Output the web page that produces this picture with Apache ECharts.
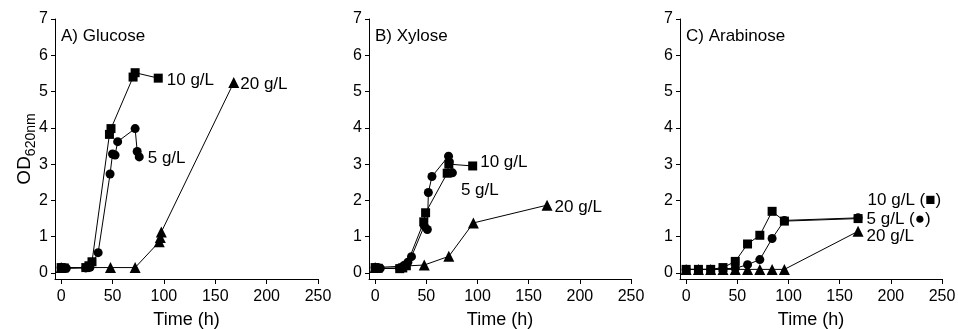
<!DOCTYPE html>
<html>
<head>
    <meta charset="UTF-8">
    <title></title>
    <style>
        html, body { margin: 0; padding: 0; background: #fff; }
        #container { width: 958px; height: 329px; }
    </style>
</head>
<body>
    <div id="container"></div>
    <script src="https://cdn.jsdelivr.net/npm/echarts@6/dist/echarts.min.js"></script>
    <script>
        // panel titles and tick values
        var panelTitles = ['A) Glucose', 'B) Xylose', 'C) Arabinose'];
        var xTicks = [0, 50, 100, 150, 200, 250];
        var yTicks = [0, 1, 2, 3, 4, 5, 6, 7];

        // A) Glucose  [time (h), OD620]
        var glu10 = [[0,0.15],[3,0.14],[24,0.15],[27,0.2],[30,0.31],[47,3.82],[48.5,3.98],[70,5.4],[72,5.52],[94.5,5.37]];
        var glu5 = [[0,0.15],[2,0.14],[5,0.13],[24,0.14],[28,0.16],[36,0.56],[47.6,2.73],[50,3.28],[52.5,3.25],[55,3.62],[72,3.98],[74,3.35],[76,3.2]];
        var glu20 = [[0,0.15],[48,0.15],[72,0.15],[95.5,0.86],[96.5,0.98],[97.5,1.13],[168,5.25]];

        // B) Xylose
        var xyl10 = [[0,0.15],[3,0.13],[24,0.12],[27,0.14],[30.5,0.2],[47.5,1.41],[49.3,1.66],[70.4,2.75],[72,3.0],[95.3,2.95]];
        var xyl5 = [[0,0.15],[2,0.14],[5,0.13],[24,0.14],[28,0.2],[32,0.3],[35.5,0.45],[48,1.3],[51,1.2],[52,2.22],[55.5,2.66],[71.7,3.22],[72.5,3.06],[75.5,2.76]];
        var xyl20 = [[0,0.15],[48,0.22],[72,0.46],[96,1.38],[168,1.87]];

        // C) Arabinose
        var ara10 = [[0,0.1],[12,0.1],[24,0.1],[36,0.15],[48,0.32],[60,0.8],[72,1.04],[84,1.7],[96,1.43],[168,1.5]];
        var ara5 = [[0,0.1],[12,0.1],[24,0.1],[36,0.12],[48,0.13],[60,0.23],[72,0.37],[84,0.95],[96,1.45],[168,1.52]];
        var ara20 = [[0,0.1],[12,0.1],[24,0.1],[36,0.1],[48,0.1],[60,0.1],[72,0.1],[84,0.1],[96,0.1],[168,1.15]];

        var font = "'Liberation Sans', Arial, sans-serif";
        var gridLeft = [55, 369, 680];

        // one line series, label put on its last point
        function mk(idx, symbol, size, pts, text, dist, dy) {
            var data = pts.map(function (p, i) {
                if (i < pts.length - 1) return p;
                return {
                    value: p,
                    label: {
                        show: true, position: 'right', distance: dist, offset: [0, dy],
                        formatter: text, color: '#000', fontSize: 17, fontFamily: font
                    }
                };
            });
            return {
                type: 'line', xAxisIndex: idx, yAxisIndex: idx,
                symbol: symbol, symbolSize: size, showAllSymbol: true,
                lineStyle: { color: '#000', width: 1 },
                itemStyle: { color: '#000' },
                emphasis: { disabled: true },
                data: data
            };
        }

        var grids = [], xAxes = [], yAxes = [], titles = [];
        for (var i = 0; i < 3; i++) {
            grids.push({
                left: gridLeft[i], top: 19, width: i == 0 ? 263 : 262, height: 260,
                outerBoundsMode: 'none', containLabel: false
            });
            titles.push({
                text: panelTitles[i], left: gridLeft[i] + 6, top: 28, padding: 0,
                textStyle: { fontSize: 17, fontWeight: 'normal', color: '#000', fontFamily: font }
            });
            xAxes.push({
                gridIndex: i, type: 'value', min: -6, max: 250,
                name: 'Time (h)', nameLocation: 'middle', nameGap: 32,
                nameTextStyle: { fontSize: 18, color: '#000', fontFamily: font },
                axisLine: { onZero: false, lineStyle: { color: '#000', width: 1 } },
                axisTick: { customValues: xTicks, length: 5, lineStyle: { color: '#000' } },
                axisLabel: { customValues: xTicks, fontSize: 16, color: '#000', margin: 10, fontFamily: font },
                splitLine: { show: false }
            });
            yAxes.push({
                gridIndex: i, type: 'value', min: -0.165, max: 7,
                name: i == 0 ? '{a|OD}{b|620nm}' : '', nameLocation: 'middle', nameGap: 17,
                nameMoveOverlap: false,
                nameTextStyle: {
                    color: '#000',
                    rich: {
                        a: { fontSize: 19, verticalAlign: 'top', fontFamily: font, color: '#000' },
                        b: { fontSize: 14, verticalAlign: 'bottom', padding: [9, 0, 0, 0], fontFamily: font, color: '#000' }
                    }
                },
                axisLine: { onZero: false, lineStyle: { color: '#000', width: 1 } },
                axisTick: { customValues: yTicks, length: 4, lineStyle: { color: '#000' } },
                axisLabel: { customValues: yTicks, fontSize: 16, color: '#000', margin: 7, fontFamily: font },
                splitLine: { show: false }
            });
        }

        var myChart = echarts.init(document.getElementById('container'));
        myChart.setOption({
            animation: false,
            title: titles,
            grid: grids,
            xAxis: xAxes,
            yAxis: yAxes,
            series: [
                mk(0, 'circle', 9, glu5, '5 g/L', 4, 1),
                mk(0, 'rect', 9, glu10, '10 g/L', 4, 2),
                mk(0, 'triangle', 11, glu20, '20 g/L', 1, 2),
                mk(1, 'rect', 9, xyl10, '10 g/L', 3, -4),
                mk(1, 'circle', 9, xyl5, '5 g/L', 4, 17),
                mk(1, 'triangle', 11, xyl20, '20 g/L', 2, 2),
                mk(2, 'triangle', 11, ara20, '20 g/L', 3, 5),
                mk(2, 'circle', 9, ara5, '5 g/L (●)', 4, 1),
                mk(2, 'rect', 9, ara10, '10 g/L (■)', 5, -18)
            ]
        });
    </script>
</body>
</html>
